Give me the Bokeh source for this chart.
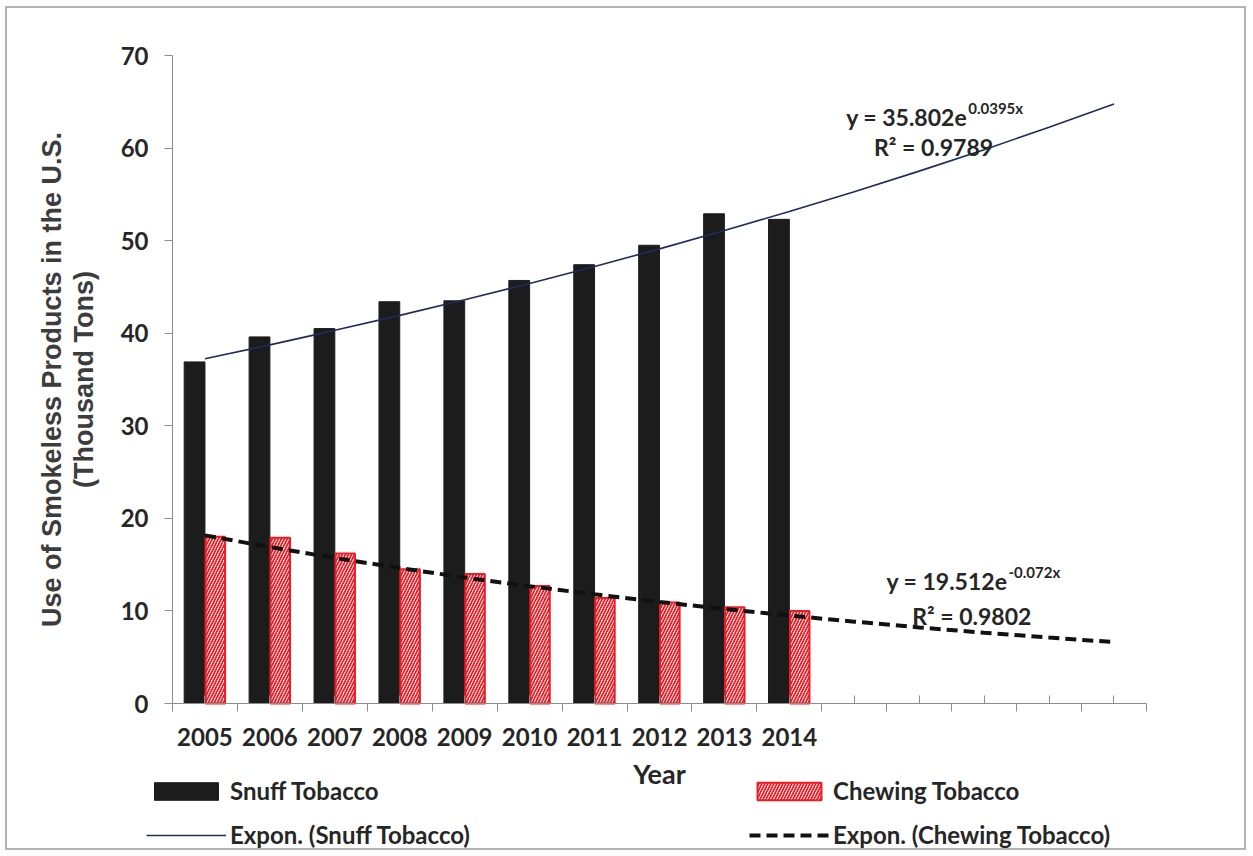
import numpy as np
from bokeh.plotting import figure
from bokeh.models import (Range1d, FixedTicker, Legend, LegendItem, ColumnDataSource)
from bokeh.core.properties import value
from bokeh.embed import file_html
from bokeh.resources import INLINE

# ---- data ----
years = ["2005", "2006", "2007", "2008", "2009", "2010", "2011", "2012", "2013", "2014"]
forecast_slots = 5  # empty categories 2015-2019 covered by the trendlines
snuff = [36.9, 39.6, 40.5, 43.4, 43.5, 45.7, 47.4, 49.5, 52.9, 52.3]
chewing = [18.0, 17.9, 16.2, 14.5, 14.0, 12.7, 11.4, 10.9, 10.4, 10.0]
# trendline values (from the chart's equations), x = 1..15
snuff_trend = [37.24, 38.74, 40.31, 41.93, 43.62, 45.38, 47.21, 49.11, 51.09, 53.15,
               55.29, 57.51, 59.83, 62.24, 64.75]
chew_trend = [18.16, 16.90, 15.72, 14.63, 13.61, 12.67, 11.79, 10.97, 10.21, 9.50,
              8.84, 8.22, 7.65, 7.12, 6.63]
snuff_eq = ("y = 35.802e", "0.0395x", "R\u00b2 = 0.9789")
chew_eq = ("y = 19.512e", "-0.072x", "R\u00b2 = 0.9802")
y_ticks = [0, 10, 20, 30, 40, 50, 60, 70]
y_max = 70

n_slots = len(years) + forecast_slots
idx = np.arange(len(years))
centers_all = np.arange(n_slots) + 0.5

FONT = "Lato"
TXT = "#262626"

# the frame fills the whole canvas; axes are pinned at x=0 / y=0
W, H = 1241, 844
px_x = 64.93          # pixels per category slot
px_y = 648 / y_max    # pixels per unit
x0 = -165 / px_x
y0 = -149 / px_y
p = figure(width=W, height=H, output_backend="svg", toolbar_location=None,
           x_range=Range1d(x0, x0 + W / px_x), y_range=Range1d(y0, y0 + H / px_y),
           min_border=0)
p.styles = {"border": "2px solid #b4b4b4", "margin": "6px 0 0 5px"}
p.outline_line_color = None
p.xgrid.visible = False
p.ygrid.visible = False
p.background_fill_color = "white"
p.border_fill_color = "white"

# bars
src_s = ColumnDataSource(dict(x=idx + 0.5 - 0.16, top=snuff))
src_c = ColumnDataSource(dict(x=idx + 0.5 + 0.16, top=chewing))
r_s = p.vbar(x="x", top="top", bottom=0, width=0.32, source=src_s,
             fill_color="#1c1c1c", line_color="#1c1c1c", line_width=1)
r_c = p.vbar(x="x", top="top", bottom=0, width=0.30, source=src_c,
             fill_color="white", line_color="#ee1c25", line_width=2,
             hatch_pattern="/", hatch_color="#ee1c25", hatch_scale=6, hatch_weight=1.8)

# trendlines
r_ts = p.line(centers_all, snuff_trend, line_color="#1f2b5e", line_width=1.6)
r_tc = p.line(centers_all, chew_trend, line_color="#111111", line_width=4,
              line_dash="11 6")

# equations
def eq(xr, yb, main, sup, r2, xr2, yb2):
    p.text(x=[xr], y=[yb], text=[main], text_align="right", text_baseline="alphabetic",
           text_font=value(FONT), text_font_style="bold", text_font_size="23px",
           text_color=TXT)
    p.text(x=[xr], y=[yb], text=[sup], text_align="left", text_baseline="alphabetic",
           y_offset=-9, x_offset=1,
           text_font=value(FONT), text_font_style="bold", text_font_size="15px",
           text_color=TXT)
    p.text(x=[xr2], y=[yb2], text=[r2], text_align="center", text_baseline="alphabetic",
           text_font=value(FONT), text_font_style="bold", text_font_size="23px",
           text_color=TXT)

eq(12.24, 63.4, *snuff_eq[:2], snuff_eq[2], 11.72, 60.1)
eq(12.86, 13.2, *chew_eq[:2], chew_eq[2], 12.31, 9.5)

# x axis
xa = p.xaxis[0]
xa.fixed_location = 0
xa.bounds = (0, n_slots)
xa.ticker = FixedTicker(ticks=list(centers_all), minor_ticks=list(range(n_slots + 1)))
labels = years + [""] * forecast_slots
xa.major_label_overrides = {float(c): lab for c, lab in zip(centers_all, labels)}
xa.major_tick_in = 8
xa.major_tick_out = 0
xa.minor_tick_in = 0
xa.minor_tick_out = 8
xa.major_tick_line_color = "#8c8c8c"
xa.minor_tick_line_color = "#8c8c8c"
xa.axis_line_color = "#8c8c8c"
xa.major_label_standoff = 16
xa.major_label_text_font = FONT
xa.major_label_text_font_style = "bold"
xa.major_label_text_font_size = "24px"
xa.major_label_text_color = TXT
xa.axis_label = "Year"
xa.axis_label_text_font = FONT
xa.axis_label_text_font_style = "bold"
xa.axis_label_text_font_size = "27px"
xa.axis_label_text_color = TXT
xa.axis_label_standoff = 8

# y axis
ya = p.yaxis[0]
ya.fixed_location = 0
ya.bounds = (0, y_max)
ya.ticker = FixedTicker(ticks=y_ticks, minor_ticks=[])
ya.major_tick_in = 0
ya.major_tick_out = 8
ya.major_tick_line_color = "#8c8c8c"
ya.axis_line_color = "#8c8c8c"
ya.major_label_standoff = 16
ya.major_label_text_font = FONT
ya.major_label_text_font_style = "bold"
ya.major_label_text_font_size = "24px"
ya.major_label_text_color = TXT
ya.axis_label = "Use of Smokeless Products in the U.S.\n(Thousand Tons)"
ya.axis_label_text_font = "Liberation Sans"
ya.axis_label_text_font_style = "bold"
ya.axis_label_text_font_size = "27px"
ya.axis_label_text_color = "#3c3c3c"
ya.axis_label_standoff = 19
ya.axis_label_text_line_height = 1.05

# legends (two columns), inside the canvas-wide frame below the axis
def make_legend(items, x):
    lg = Legend(items=items, location=(x, 3), orientation="vertical",
                glyph_width=80, glyph_height=22, label_height=28, spacing=15,
                label_standoff=4, padding=0, margin=0,
                border_line_color=None, background_fill_alpha=0,
                label_text_font=FONT, label_text_font_style="bold",
                label_text_font_size="24px", label_text_color=TXT)
    p.add_layout(lg, "center")

make_legend([LegendItem(label="Snuff Tobacco", renderers=[r_s]),
             LegendItem(label="Expon. (Snuff Tobacco)", renderers=[r_ts])], 139)
make_legend([LegendItem(label="Chewing Tobacco", renderers=[r_c]),
             LegendItem(label="Expon. (Chewing Tobacco)", renderers=[r_tc])], 742)

open("out.html", "w").write(file_html(p, INLINE))
